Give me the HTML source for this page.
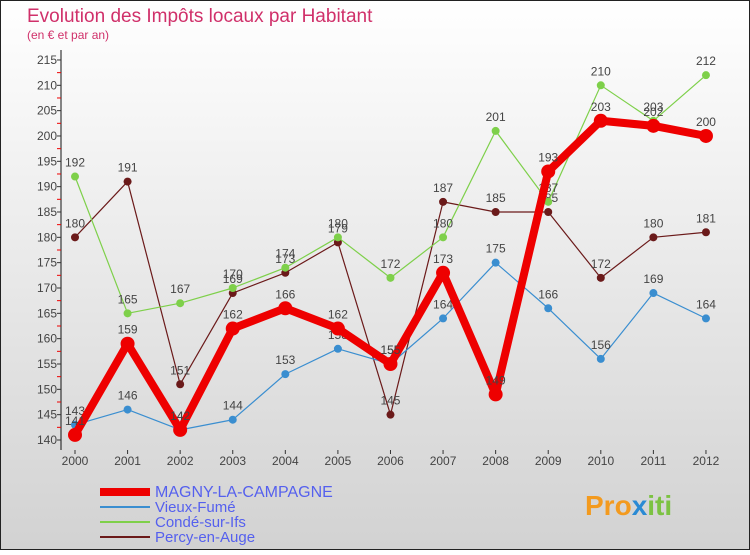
<!DOCTYPE html>
<html><head><meta charset="utf-8"><style>
body{margin:0;width:750px;height:550px;overflow:hidden;font-family:"Liberation Sans",sans-serif}
</style></head><body>
<svg width="750" height="550" xmlns="http://www.w3.org/2000/svg">
<defs>
<linearGradient id="bg" x1="0" y1="0" x2="0" y2="1"><stop offset="0" stop-color="#ffffff"/><stop offset="1" stop-color="#d2d2d2"/></linearGradient>
</defs>
<rect x="0" y="0" width="750" height="550" fill="url(#bg)"/>
<rect x="0.5" y="0.5" width="749" height="549" fill="none" stroke="#222" stroke-width="1"/>
<text x="27" y="22" font-size="19" fill="#d0306a">Evolution des Impôts locaux par Habitant</text>
<text x="27" y="39" font-size="12" fill="#d0306a">(en € et par an)</text>
<g id="axes"></g>
<g id="series"></g>
<g id="legend"></g>
<text x="585" y="515" font-size="28" font-weight="bold" fill="#f39a1e">Pro<tspan fill="#2a8ad4">x</tspan><tspan fill="#7cc242">iti</tspan></text>
</svg>
<script>
const years=["2000","2001","2002","2003","2004","2005","2006","2007","2008","2009","2010","2011","2012"];
const magny=[141,159,142,162,166,162,155,173,149,193,203,202,200];
const vieux=[143,146,142,144,153,158,155,164,175,166,156,169,164];
const conde=[192,165,167,170,174,180,172,180,201,187,210,203,212];
const percy=[180,191,151,169,173,179,145,187,185,185,172,180,181];
const yTicks=[140,145,150,155,160,165,170,175,180,185,190,195,200,205,210,215];
const NS="http://www.w3.org/2000/svg";
const X=i=>75+i*52.58;
const Y=v=>440-(v-140)*5.067;
function mk(t,a,p){const e=document.createElementNS(NS,t);for(const k in a)e.setAttribute(k,a[k]);p.appendChild(e);return e;}
const ax=document.getElementById('axes');
const yl=mk('line',{x1:61,y1:50,x2:61,y2:450,stroke:'#111','stroke-width':1},ax);


yTicks.forEach(v=>{
 const t=mk('text',{x:57,y:Y(v)+4,'text-anchor':'end','font-size':12,fill:'#444'},ax);t.textContent=v;
 
 
 mk('line',{x1:57,y1:Y(v),x2:61,y2:Y(v),stroke:'#333'},ax);
 if(v<215)mk('line',{x1:57,y1:Y(v+2.5),x2:61,y2:Y(v+2.5),stroke:'#e00'},ax);
});
years.forEach((y,i)=>{
 mk('line',{x1:X(i),y1:450,x2:X(i),y2:454,stroke:'#333'},ax);
 const t=mk('text',{x:X(i),y:465,'text-anchor':'middle','font-size':12,fill:'#444'},ax);t.textContent=y;
 
 
});
const sg=document.getElementById('series');
function series(data,color,w,r,name){
 const g=mk('g',{},sg);
 
 
 mk('polyline',{points:data.map((v,i)=>X(i)+','+Y(v)).join(' '),fill:'none',stroke:color,'stroke-width':w,'stroke-linejoin':'round'},g);
 data.forEach((v,i)=>{
  const c=mk('circle',{cx:X(i),cy:Y(v),r:r,fill:color},g);
  
  
  const t=mk('text',{x:X(i),y:Y(v)-10,'text-anchor':'middle','font-size':12,fill:'#444'},g);t.textContent=v;
  
  
 });
}
series(percy,'#6b1a1a',1.2,4,'percy-series');
series(conde,'#7ed04a',1.2,4,'conde-series');
series(vieux,'#3a8ed0',1.2,4,'vieux-series');
series(magny,'#ee0000',8,7,'magny-series');
const lg=document.getElementById('legend');
[["MAGNY-LA-CAMPAGNE",'#ee0000',8],["Vieux-Fumé",'#3a8ed0',2],["Condé-sur-Ifs",'#7ed04a',2],["Percy-en-Auge",'#6b1a1a',2]].forEach((d,i)=>{
 const y=492+i*15;
 const g=mk('g',{},lg);
 
 
 mk('line',{x1:100,y1:y,x2:150,y2:y,stroke:d[1],'stroke-width':d[2]},g);
 const t=mk('text',{x:155,y:y+5,'font-size':i==0?16:15,fill:'#5560ee'},g);t.textContent=d[0];
});
</script>
</body></html>
